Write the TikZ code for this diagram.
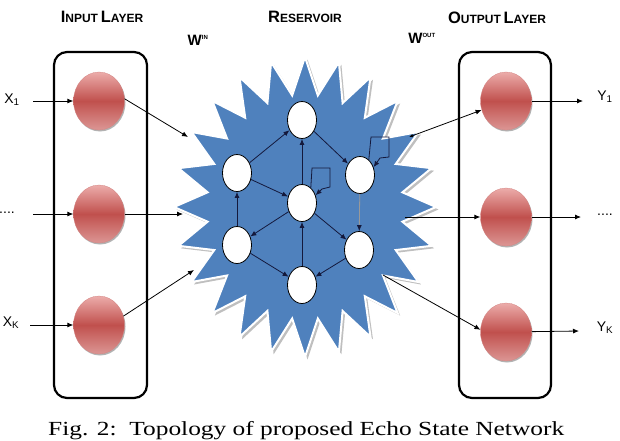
\documentclass[tikz,border=0pt]{standalone}
\usepackage{fontspec}
\usepackage{graphicx}
\setmainfont{Liberation Serif}
\setsansfont{Liberation Sans}
\usetikzlibrary{arrows.meta,shapes.geometric,shadows}
\definecolor{starblue}{RGB}{79,129,189}
\definecolor{neuronmid}{RGB}{192,80,77}
\definecolor{neurontop}{RGB}{236,172,170}
\definecolor{neuronbot}{RGB}{220,150,148}
\definecolor{edgenavy}{RGB}{20,25,60}
\newcommand{\fsc}[2]{{\fontsize{16.5}{18}\selectfont #1}{\fontsize{12}{14}\selectfont #2}}
\begin{document}
\begin{tikzpicture}[x=1pt,y=-1pt,
  title/.style={font=\sffamily\bfseries, inner sep=0pt},
  layerbox/.style={rectangle, draw, line width=2.2pt, rounded corners=13pt, inner sep=0pt},
  neuron/.style={ellipse, minimum width=51pt, minimum height=58pt, inner sep=0pt,
     top color=neurontop, bottom color=neuronbot, middle color=neuronmid,
     draw=neuronmid!70!white, line width=0.3pt,
     drop shadow={shadow xshift=1pt, shadow yshift=-1.5pt, fill=black, opacity=0.3}},
  rnode/.style={ellipse, draw=black, line width=0.8pt, fill=white, minimum width=29pt, minimum height=37pt, inner sep=0pt},
  io/.style={-{Latex[length=6pt,width=5pt]}, line width=0.8pt},
  res/.style={-{Latex[length=6pt,width=5pt]}, draw=edgenavy, line width=0.8pt},
  lbl/.style={font=\sffamily\fontsize{14}{14}\selectfont, inner sep=0pt}
]
\useasboundingbox (0,0) rectangle (620,440);
\clip (0,0) rectangle (620,440);

% reservoir star
\fill[black!25, shift={(2.5,2.5)}] plot[variable=\t, samples at={0,...,47}]
  ({305+131*(1-0.25*mod(\t,2))*cos(\t*7.5)}, {207-150*(1-0.25*mod(\t,2))*sin(\t*7.5)}) -- cycle;
\filldraw[fill=starblue, draw=white, line width=2pt, line join=miter] plot[variable=\t, samples at={0,...,47}]
  ({305+131*(1-0.25*mod(\t,2))*cos(\t*7.5)}, {207-150*(1-0.25*mod(\t,2))*sin(\t*7.5)}) -- cycle;

% reservoir neurons
\node[rnode] (rt)  at (302,120) {};
\node[rnode] (rul) at (237,173) {};
\node[rnode] (rc)  at (302,203) {};
\node[rnode] (rur) at (360,175) {};
\node[rnode] (rll) at (237,245) {};
\node[rnode] (rlr) at (359,250) {};
\node[rnode] (rb)  at (302,285) {};

\draw[res] (rul) -- (rt);
\draw[res] (rt) -- (rur);
\draw[res] (rc) -- (rt);
\draw[res] (rul) -- (rc);
\draw[res] (rc) -- (rll);
\draw[res] (rc) -- (rlr);
\draw[res] (rll) -- (rul);
\draw[res, draw=gray!80, -{Latex[length=6pt,width=5pt,color=edgenavy]}] (rur) -- (rlr);
\draw[res] (rll) -- (rb);
\draw[res] (rlr) -- (rb);
\draw[res] (rb) -- (rc);
\draw[res] (rc.60) -- (312,168) -- (330,168) -- (330,187) -- (322,189) -- (rc.30);
\draw[res] (rur.60) -- (371,137) -- (389,137) -- (389,157) -- (380,158) -- (rur.30);

% layer boxes
\node[layerbox, minimum width=93pt, minimum height=346pt] (inbox) at (100.5,225) {};
\node[layerbox, minimum width=92pt, minimum height=346pt] (outbox) at (505,225) {};

% layer neurons
\node[neuron] (in1) at (99,101) {};
\node[neuron] (in2) at (99,214) {};
\node[neuron] (in3) at (99,325) {};
\node[neuron] (out1) at (506,101) {};
\node[neuron] (out2) at (506,217) {};
\node[neuron] (out3) at (506,332) {};

% titles
\node[title] (tin) at (102,17) {\fsc{I}{NPUT} \fsc{L}{AYER}};
\node[title] (tres) at (305,17) {\fsc{R}{ESERVOIR}};
\node[title] (tout) at (497,18) {\fsc{O}{UTPUT} \fsc{L}{AYER}};
\node[title] (win) at (198,40) {\fontsize{15}{15}\selectfont W\textsuperscript{\fontsize{6}{6}\selectfont IN}};
\node[title] (wout) at (422,38) {\fontsize{15}{15}\selectfont W\textsuperscript{\fontsize{6}{6}\selectfont OUT}};

% input labels and arrows
\node[lbl] (x1) at (12,100) {X\textsubscript{1}};
\node[lbl] (x2) at (7,213) {....};
\node[lbl] (x3) at (11,323) {X\textsubscript{K}};
\coordinate (a1) at (33,101);
\coordinate (a2) at (33,214);
\coordinate (a3) at (30,325);
\draw[io] (a1) -- (in1);
\draw[io] (a2) -- (in2);
\draw[io] (a3) -- (in3);

% input to reservoir
\coordinate (s1) at (188,137);
\coordinate (s2) at (183,214);
\coordinate (s3) at (194,270);
\draw[io] (in1.5) -- (s1);
\draw[io] (in2.east) -- (s2);
\draw[io] (in3.20) -- (s3);

% reservoir to output
\coordinate (t1) at (409,137);
\coordinate (t2) at (405,217);
\coordinate (t3) at (383,275);
\draw[line width=0.8pt, {Latex[length=4pt,width=3.5pt]}-{Latex[length=6pt,width=5pt]}] (t1) -- (out1);
\draw[io] (t2) -- (out2);
\draw[io] (t3) -- (out3.175);

% output arrows and labels
\coordinate (b1) at (583,101);
\coordinate (b2) at (581,217);
\coordinate (b3) at (579,331);
\draw[io] (out1) -- (b1);
\draw[io] (out2) -- (b2);
\draw[io] (out3) -- (b3);
\node[lbl] (y1) at (605,97) {Y\textsubscript{1}};
\node[lbl] (y2) at (605,215) {....};
\node[lbl] (y3) at (605,328) {Y\textsubscript{K}};

% caption
\node[font=\fontsize{20}{20}\selectfont, anchor=base west, inner sep=0pt] (cap) at (48,435)
  {\scalebox{1.27}[1]{Fig. 2:\ \ Topology of proposed Echo State Network}};
\end{tikzpicture}
\end{document}
